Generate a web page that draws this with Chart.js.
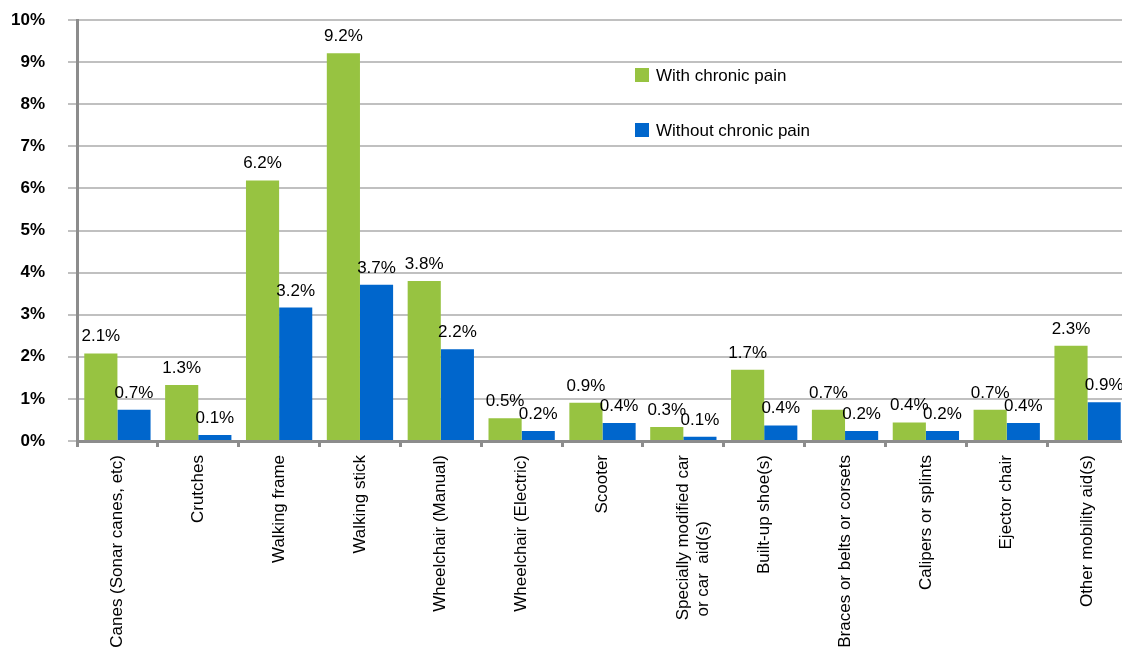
<!DOCTYPE html>
<html>
<head>
<meta charset="utf-8">
<script src="https://cdn.jsdelivr.net/npm/chart.js@4.4.1/dist/chart.umd.min.js"></script>
<style>
  html, body { margin: 0; padding: 0; background: #fff; overflow: hidden; width: 1122px; height: 656px; }
  #wrap { position: relative; width: 1130px; height: 656px; }
</style>
</head>
<body>
<div id="wrap"><canvas id="c"></canvas></div>
<script>
const categories = [
  "Canes (Sonar canes, etc)",
  "Crutches",
  "Walking frame",
  "Walking stick",
  "Wheelchair (Manual)",
  "Wheelchair (Electric)",
  "Scooter",
  ["Specially modified car", "or car  aid(s)"],
  "Built-up shoe(s)",
  "Braces or belts or corsets",
  "Calipers or splints",
  "Ejector chair",
  "Other mobility aid(s)"
];
const seriesNames = ["With chronic pain", "Without chronic pain"];
const withPain    = [2.08, 1.33, 6.19, 9.21, 3.80, 0.54, 0.91, 0.33, 1.69, 0.74, 0.44, 0.74, 2.26];
const withoutPain = [0.74, 0.14, 3.17, 3.71, 2.18, 0.24, 0.43, 0.10, 0.37, 0.24, 0.24, 0.43, 0.92];
const yTicks = [0, 1, 2, 3, 4, 5, 6, 7, 8, 9, 10];

const FONT = "'Liberation Sans', Arial, sans-serif";
const GREEN = "#97C341";
const BLUE = "#0066CC";

// pad the second line of multi-line labels so lines share a common start
function padLabels(cats) {
  const ctx = document.createElement('canvas').getContext('2d');
  ctx.font = "17px " + FONT;
  return cats.map(c => {
    if (!Array.isArray(c)) return c;
    const w0 = Math.max(...c.map(s => ctx.measureText(s).width));
    return c.map(s => {
      let t = s;
      const sp = ctx.measureText(' ').width;
      while (ctx.measureText(t).width + sp <= w0 + 0.5) t += ' ';
      return t;
    });
  });
}

const valueLabels = {
  id: 'valueLabels',
  afterDatasetsDraw(chart) {
    const ctx = chart.ctx;
    ctx.save();
    ctx.font = "17px " + FONT;
    ctx.fillStyle = "#000";
    ctx.textAlign = "center";
    ctx.textBaseline = "alphabetic";
    chart.data.datasets.forEach((ds, di) => {
      const meta = chart.getDatasetMeta(di);
      meta.data.forEach((bar, i) => {
        ctx.fillText(ds.data[i].toFixed(1) + "%", bar.x, bar.y - 12);
      });
    });
    ctx.restore();
  }
};

const customLegend = {
  id: 'customLegend',
  afterDraw(chart) {
    const ctx = chart.ctx;
    const a = chart.chartArea;
    const x0 = a.left + 558;
    const ys = [a.top + 55, a.top + 110];
    ctx.save();
    ctx.font = "17px " + FONT;
    ctx.textBaseline = "middle";
    ctx.textAlign = "left";
    chart.data.datasets.forEach((ds, i) => {
      ctx.fillStyle = ds.backgroundColor;
      ctx.fillRect(x0, ys[i] - 7, 14, 14);
      ctx.fillStyle = "#000";
      ctx.fillText(ds.label, x0 + 21, ys[i] + 1);
    });
    ctx.restore();
  }
};

new Chart(document.getElementById('c'), {
  type: 'bar',
  data: {
    labels: padLabels(categories),
    datasets: [
      { label: seriesNames[0], data: withPain, backgroundColor: GREEN, borderWidth: 0 },
      { label: seriesNames[1], data: withoutPain, backgroundColor: BLUE, borderWidth: 0 }
    ]
  },
  options: {
    responsive: true,
    maintainAspectRatio: false,
    animation: false,
    layout: { padding: { top: 20, right: 2, left: 0, bottom: 0 } },
    datasets: { bar: { categoryPercentage: 0.82, barPercentage: 1.0 } },
    plugins: { legend: { display: false }, tooltip: { enabled: false } },
    scales: {
      x: {
        grid: { display: true, drawOnChartArea: false, drawTicks: true, tickLength: 6, color: "#8C8C8C", lineWidth: 3, offset: true },
        border: { display: true, color: "#8C8C8C", width: 3 },
        ticks: {
          autoSkip: false, minRotation: 90, maxRotation: 90, padding: 8,
          color: "#000", font: { family: FONT, size: 17 }
        },
        afterFit(scale) { scale.height = 215; scale.paddingLeft = 0; scale.paddingRight = 0; scale.paddingTop = 0; scale.paddingBottom = 0; }
      },
      y: {
        min: 0, max: 10,
        afterBuildTicks(scale) { scale.ticks = yTicks.map(v => ({ value: v })); },
        grid: { color: "#C0C0C0", lineWidth: 2, tickLength: 9, drawTicks: true },
        border: { display: true, color: "#8C8C8C", width: 3 },
        ticks: {
          padding: 23, color: "#000",
          font: { family: FONT, size: 17, weight: 'bold' },
          callback: v => v + "%"
        },
        afterFit(scale) { scale.width = 77; scale.paddingTop = 0; scale.paddingBottom = 0; }
      }
    }
  },
  plugins: [valueLabels, customLegend]
});
</script>
</body>
</html>
